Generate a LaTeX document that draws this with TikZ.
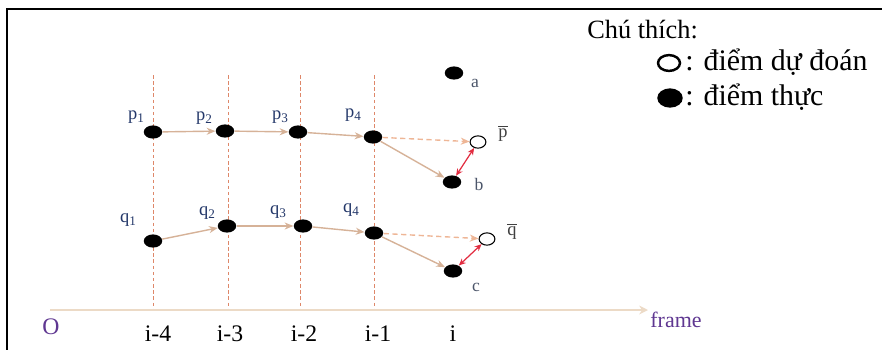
\documentclass[tikz,border=0pt]{standalone}
\usepackage{fontspec}
\setmainfont{Liberation Serif}
\usetikzlibrary{arrows.meta,shapes.geometric}
\definecolor{gridc}{RGB}{222,135,105}
\definecolor{axisc}{RGB}{236,218,198}
\definecolor{connc}{RGB}{214,178,152}
\definecolor{predc}{RGB}{238,182,150}
\definecolor{errc}{RGB}{226,45,65}
\definecolor{labc}{RGB}{35,55,105}
\definecolor{ltrc}{RGB}{75,85,105}
\definecolor{purp}{RGB}{95,55,145}
\begin{document}
\begin{tikzpicture}[x=0.02cm,y=-0.02cm,
  realpt/.style={ellipse,fill=black,inner sep=0pt,minimum width=10.5pt,minimum height=7.5pt},
  predpt/.style={ellipse,draw=black,fill=white,line width=0.6pt,inner sep=0pt,minimum width=9pt,minimum height=7pt},
  gridline/.style={gridc,line width=0.45pt,dash pattern=on 2pt off 1.5pt},
  axisline/.style={axisc,line width=1.3pt,-{Stealth[length=5pt,width=5pt]}},
  conn/.style={connc,line width=0.8pt,-{Stealth[length=5pt,width=4pt]}},
  predarrow/.style={predc,line width=0.8pt,dash pattern=on 3pt off 2pt,-{Stealth[length=5pt,width=4pt]}},
  errarrow/.style={errc,line width=0.7pt,{Stealth[length=4pt,width=3.5pt]}-{Stealth[length=4pt,width=3.5pt]}},
  plab/.style={labc,font=\fontsize{10.5}{12}\selectfont,inner sep=0pt},
  ltr/.style={ltrc,font=\fontsize{10}{12}\selectfont,inner sep=0pt},
  barlab/.style={black!75,font=\fontsize{10.5}{12}\selectfont,inner sep=0pt},
  axlab/.style={black,font=\fontsize{13.5}{15}\selectfont,inner sep=0pt},
  leg/.style={black,font=\fontsize{15}{17}\selectfont,inner sep=0pt,anchor=west},
  legentry/.style={leg,font=\fontsize{17}{19}\selectfont}]
\useasboundingbox (0,0) rectangle (882,349);
\draw[line width=1.4pt] (7,352) -- (7,9) -- (885,9);

% vertical dashed grid lines
\foreach \n/\x in {1/153,2/228,3/300,4/374}{
  \coordinate (t\n) at (\x,75);
  \coordinate (b\n) at (\x,310);
  \draw[gridline] (t\n) -- (b\n);
}

% time axis
\coordinate (o) at (50,310);
\coordinate (ax) at (648,310);
\draw[axisline] (o) -- (ax);

% points p
\node[realpt] (p1) at (153,132) {};
\node[realpt] (p2) at (225,131) {};
\node[realpt] (p3) at (298,132) {};
\node[realpt] (p4) at (373,137) {};
\node[predpt] (pb) at (478,142) {};
\node[realpt] (b) at (452,182) {};
\node[realpt] (a) at (454,73) {};

% points q
\node[realpt] (q1) at (153,241) {};
\node[realpt] (q2) at (227,226) {};
\node[realpt] (q3) at (303,226) {};
\node[realpt] (q4) at (374,233) {};
\node[predpt] (qb) at (487,239) {};
\node[realpt] (c) at (453,271) {};

% connectors
\draw[conn] (p1) -- (p2);
\draw[conn] (p2) -- (p3);
\draw[conn] (p3) -- (p4);
\draw[predarrow] (p4) -- (pb);
\draw[conn] (p4) -- (b);
\draw[errarrow] (pb) -- (b);
\draw[conn] (q1) -- (q2);
\draw[conn] (q2) -- (q3);
\draw[conn] (q3) -- (q4);
\draw[predarrow] (q4) -- (qb);
\draw[conn] (q4) -- (c);
\draw[errarrow] (qb) -- (c);

% labels
\node[plab] (lp1) at (136,117) {p\raisebox{-0.35ex}{\fontsize{7.5}{8}\selectfont 1}};
\node[plab] (lp2) at (204,118) {p\raisebox{-0.35ex}{\fontsize{7.5}{8}\selectfont 2}};
\node[plab] (lp3) at (280,117) {p\raisebox{-0.35ex}{\fontsize{7.5}{8}\selectfont 3}};
\node[plab] (lp4) at (353,115) {p\raisebox{-0.35ex}{\fontsize{7.5}{8}\selectfont 4}};
\node[plab] (lq1) at (128,220) {q\raisebox{-0.35ex}{\fontsize{7.5}{8}\selectfont 1}};
\node[plab] (lq2) at (207,213) {q\raisebox{-0.35ex}{\fontsize{7.5}{8}\selectfont 2}};
\node[plab] (lq3) at (278,212) {q\raisebox{-0.35ex}{\fontsize{7.5}{8}\selectfont 3}};
\node[plab] (lq4) at (351,210) {q\raisebox{-0.35ex}{\fontsize{7.5}{8}\selectfont 4}};
\node[ltr] (la) at (475,83) {a};
\node[ltr] (lb) at (479,184) {b};
\node[ltr] (lc) at (476,287) {c};
\node[barlab] (lpb) at (503,133) {$\overline{\mbox{p}}$};
\node[barlab] (lqb) at (512,231) {$\overline{\mbox{q}}$};

% axis labels
\node[axlab,text=purp] (lo) at (51,327) {O};
\node[axlab] (l4) at (158,334) {i-4};
\node[axlab] (l3) at (230,334) {i-3};
\node[axlab] (l2) at (304,334) {i-2};
\node[axlab] (l1) at (378,334) {i-1};
\node[axlab] (l0) at (453,334) {i};
\node[axlab,text=purp,font=\fontsize{12.5}{14}\selectfont] (lf) at (676,320) {frame};

% legend
\node[leg] (lt) at (587,30) {Chú thích:};
\node[ellipse,draw=black,line width=1.4pt,inner sep=0pt,minimum width=12.5pt,minimum height=9pt] (lpred) at (669,63) {};
\node[legentry] (lpt) at (685,62) {: điểm dự đoán};
\node[ellipse,fill=black,inner sep=0pt,minimum width=14.5pt,minimum height=11pt] (lreal) at (670,98) {};
\node[legentry] (lrt) at (685,97) {: điểm thực};
\end{tikzpicture}
\end{document}
